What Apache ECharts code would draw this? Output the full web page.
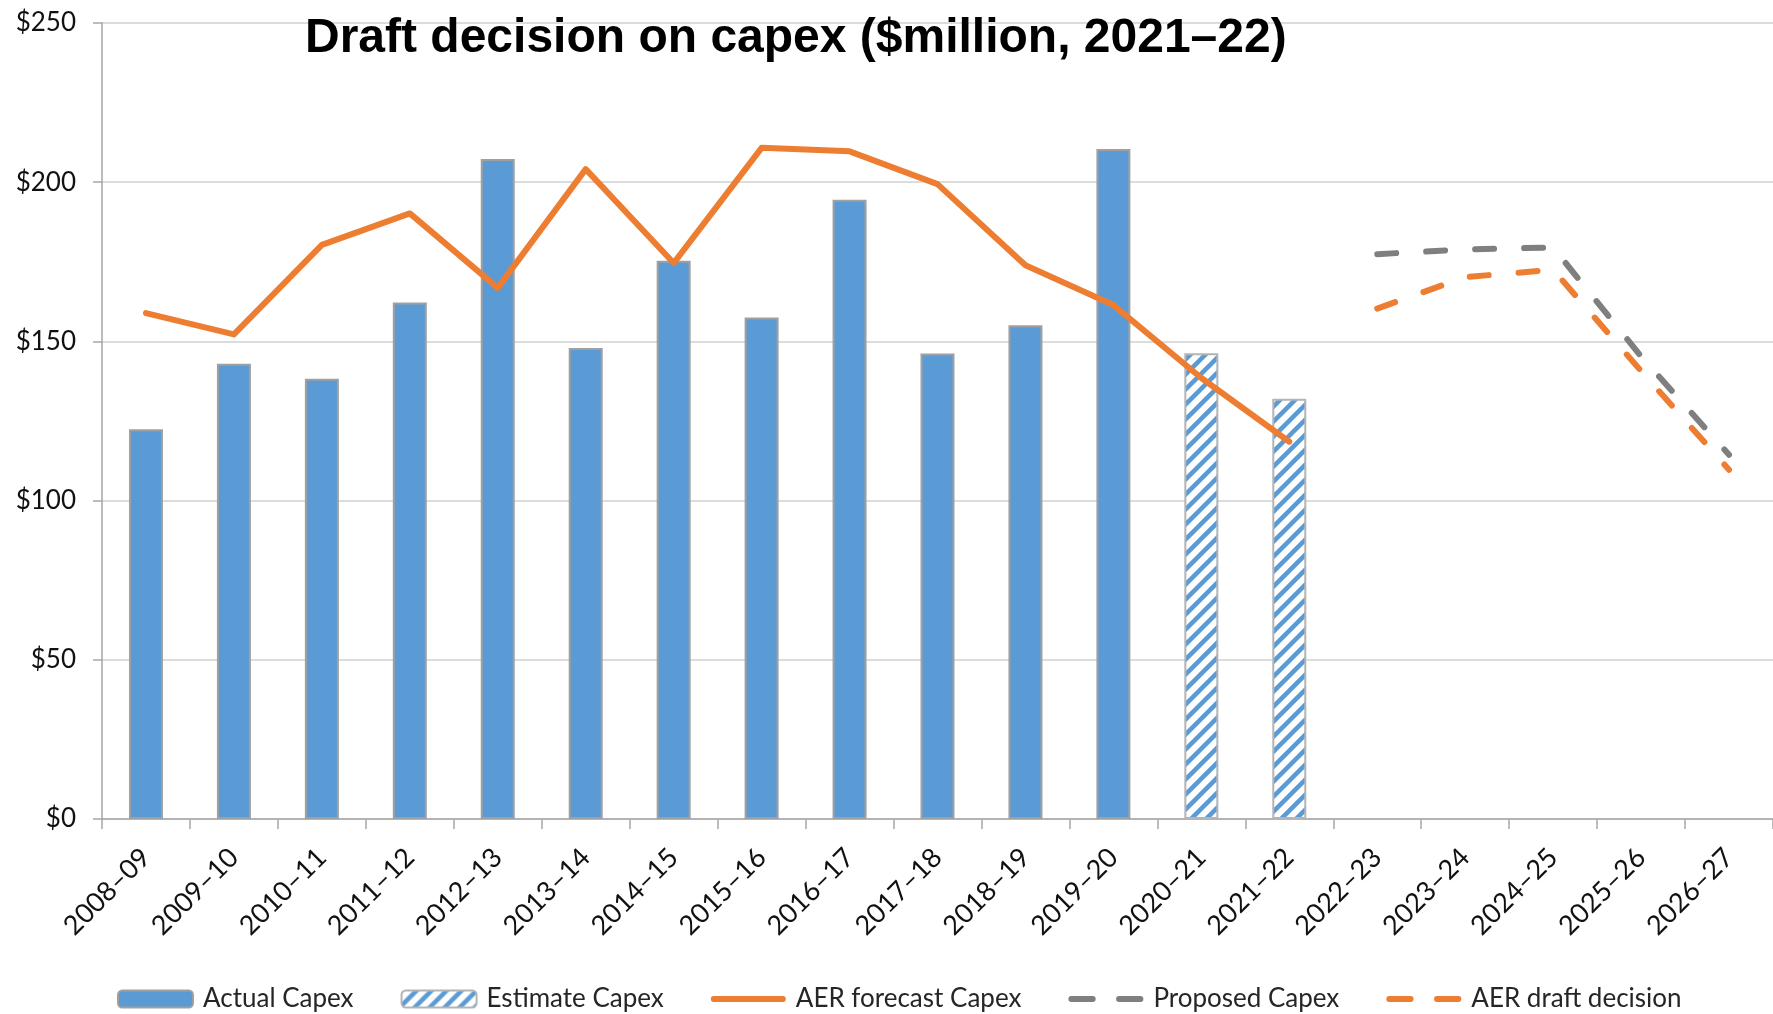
<!DOCTYPE html>
<html>
<head>
<meta charset="utf-8">
<title>Draft decision on capex</title>
<script src="https://cdn.jsdelivr.net/npm/echarts@6/dist/echarts.min.js"></script>
<style>
  html, body { margin: 0; padding: 0; background: #fff; }
  #main { width: 1773px; height: 1014px; }
</style>
</head>
<body>
<div id="main"></div>
<script>
// categories (financial years)
var years = ['2008–09', '2009–10', '2010–11', '2011–12', '2012–13', '2013–14', '2014–15',
  '2015–16', '2016–17', '2017–18', '2018–19', '2019–20', '2020–21', '2021–22',
  '2022–23', '2023–24', '2024–25', '2025–26', '2026–27'];

// $million, 2021-22
var actualCapex = [122.4, 143, 138.3, 162.2, 207.3, 147.9, 175.3, 157.5, 194.5, 146.2, 155.1, 210.4,
  '-', '-', '-', '-', '-', '-', '-'];
var estimateCapex = ['-', '-', '-', '-', '-', '-', '-', '-', '-', '-', '-', '-',
  146.3, 132, '-', '-', '-', '-', '-'];
var aerForecastCapex = [158.9, 152.2, 180.3, 190.2, 166.8, 204.1, 174.6, 210.8, 209.7, 199.4, 173.9, 161.4,
  138.5, 118.5, '-', '-', '-', '-', '-'];
var proposedCapex = ['-', '-', '-', '-', '-', '-', '-', '-', '-', '-', '-', '-', '-', '-',
  177.4, 178.9, 179.5, 145.3, 114.4];
var aerDraftDecision = ['-', '-', '-', '-', '-', '-', '-', '-', '-', '-', '-', '-', '-', '-',
  160.3, 170.2, 172.5, 140.7, 109.7];

var yTicks = [0, 50, 100, 150, 200, 250];

var blue = '#5b9bd5';
var orange = '#ed7d31';
var grey = '#7f7f7f';
var labelFont = 'Lato, "Open Sans", sans-serif';

// legend icons for the lines (a bar, and two rounded dashes)
var solidIcon = 'path://M3,0h69a3,3 0 0 1 0,6h-69a3,3 0 0 1 0,-6z';
var dashIcon = 'path://M3,0h22a3,3 0 0 1 0,6h-22a3,3 0 0 1 0,-6z M52,0h22a3,3 0 0 1 0,6h-22a3,3 0 0 1 0,-6z';

// hatched fill for the estimate bars
function makeHatch() {
  var size = 15;
  var c = document.createElement('canvas');
  c.width = size;
  c.height = size;
  var ctx = c.getContext('2d');
  ctx.fillStyle = '#fff';
  ctx.fillRect(0, 0, size, size);
  ctx.strokeStyle = blue;
  ctx.lineWidth = 4.5;
  ctx.beginPath();
  ctx.moveTo(-2, size + 2);
  ctx.lineTo(size + 2, -2);
  ctx.moveTo(-2, 2);
  ctx.lineTo(2, -2);
  ctx.moveTo(size - 2, size + 2);
  ctx.lineTo(size + 2, size - 2);
  ctx.stroke();
  return c;
}
var hatch = { image: makeHatch(), repeat: 'repeat' };

const myChart = echarts.init(document.getElementById('main'));

var option = {
  animation: false,
  title: {
    text: 'Draft decision on capex ($million, 2021–22)',
    left: 300,
    top: 10,
    textStyle: {
      fontFamily: '"Liberation Sans", Arial, sans-serif',
      fontSize: 48,
      fontWeight: 'bold',
      color: '#000'
    }
  },
  grid: {
    left: 102,
    top: 23,
    width: 1678,
    height: 796
  },
  legend: {
    left: 112,
    top: 979,
    itemWidth: 75,
    itemHeight: 17,
    itemGap: 47,
    textStyle: {
      fontFamily: labelFont,
      fontSize: 26,
      lineHeight: 30,
      color: '#262626',
      padding: [0, 0, 0, 5]
    },
    data: [
      { name: 'Actual Capex' },
      { name: 'Estimate Capex' },
      { name: 'AER forecast Capex', icon: solidIcon, itemStyle: { color: orange, borderWidth: 0 } },
      { name: 'Proposed Capex', icon: dashIcon, itemStyle: { color: grey, borderWidth: 0 } },
      { name: 'AER draft decision', icon: dashIcon, itemStyle: { color: orange, borderWidth: 0 } }
    ]
  },
  xAxis: {
    type: 'category',
    data: years,
    boundaryGap: true,
    axisLine: { lineStyle: { color: '#a6a6a6', width: 1.5 } },
    axisTick: { show: true, length: 10, lineStyle: { color: '#a6a6a6', width: 1.5 } },
    axisLabel: {
      interval: 0,
      rotate: 45,
      margin: 34,
      fontFamily: labelFont,
      fontSize: 27,
      color: '#111'
    }
  },
  yAxis: {
    type: 'value',
    min: yTicks[0],
    max: yTicks[yTicks.length - 1],
    interval: 50,
    axisLine: { show: true, lineStyle: { color: '#a6a6a6', width: 1.5 } },
    axisTick: { show: true, length: 9, lineStyle: { color: '#a6a6a6', width: 1.5 } },
    splitLine: { lineStyle: { color: '#d0d0d0', width: 1.5 } },
    axisLabel: {
      margin: 26,
      fontFamily: labelFont,
      fontSize: 26,
      color: '#111',
      formatter: function (v) {
        return '$' + v;
      }
    }
  },
  series: [
    {
      name: 'Actual Capex',
      type: 'bar',
      barWidth: 34,
      barGap: '-100%',
      data: actualCapex,
      itemStyle: { color: blue, borderColor: '#a0a0a0', borderWidth: 2 }
    },
    {
      name: 'Estimate Capex',
      type: 'bar',
      barWidth: 34,
      barGap: '-100%',
      data: estimateCapex,
      itemStyle: { color: hatch, borderColor: '#b4b4b4', borderWidth: 2 }
    },
    {
      name: 'AER forecast Capex',
      type: 'line',
      data: aerForecastCapex,
      symbol: 'none',
      lineStyle: { color: orange, width: 6, join: 'round', cap: 'round' },
      itemStyle: { color: orange }
    },
    {
      name: 'Proposed Capex',
      type: 'line',
      data: proposedCapex,
      symbol: 'none',
      lineStyle: { color: grey, width: 6, type: [19, 30], cap: 'round', join: 'round' },
      itemStyle: { color: grey }
    },
    {
      name: 'AER draft decision',
      type: 'line',
      data: aerDraftDecision,
      symbol: 'none',
      lineStyle: { color: orange, width: 6, type: [19, 30], cap: 'round', join: 'round' },
      itemStyle: { color: orange }
    }
  ]
};

myChart.setOption(option);
</script>
</body>
</html>
